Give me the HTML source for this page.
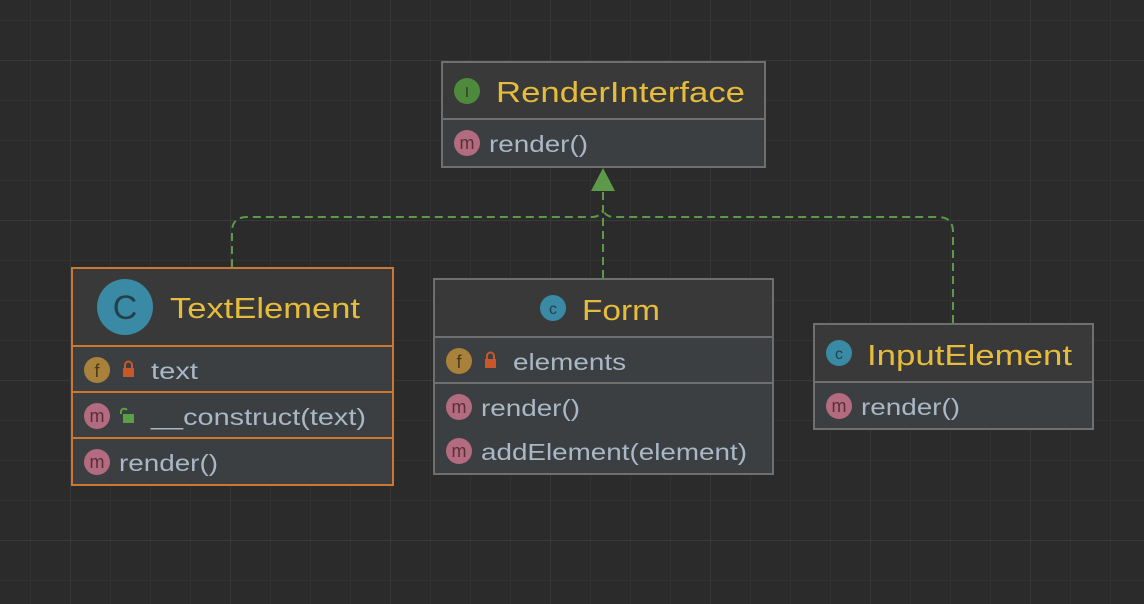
<!DOCTYPE html>
<html><head><meta charset="utf-8"><style>
html,body{margin:0;padding:0;background:#2b2b2b;width:1144px;height:604px;overflow:hidden}
svg{display:block}
.h{font-family:"Liberation Sans",sans-serif;font-size:29px;fill:#e6bc3c}
.r{font-family:"Liberation Sans",sans-serif;font-size:23px;fill:#a9b7c6}
.ic{font-family:"Liberation Sans",sans-serif;font-weight:normal;text-anchor:middle}
</style></head><body>
<svg width="1144" height="604" viewBox="0 0 1144 604" xmlns="http://www.w3.org/2000/svg">
<defs>
<pattern id="minor" width="40" height="40" patternUnits="userSpaceOnUse" x="30" y="20">
<path d="M0 0H40M0 0V40" stroke="#323232" stroke-width="2" fill="none"/>
</pattern>
<pattern id="major" width="160" height="160" patternUnits="userSpaceOnUse" x="70" y="60">
<path d="M0 0H160M0 0V160" stroke="#393939" stroke-width="2" fill="none"/>
</pattern>
</defs>
<rect width="1144" height="604" fill="#2b2b2b"/>
<rect width="1144" height="604" fill="url(#minor)"/>
<rect width="1144" height="604" fill="url(#major)"/>

<g stroke="#5c9a4a" stroke-width="2" fill="none" stroke-dasharray="8,5">
<path d="M232 267V232Q232 217 247 217H592Q600 217 603 210"/>
<path d="M953 323V232Q953 217 938 217H614Q606 217 603 210"/>
<path d="M603 278V191"/>
</g>
<polygon points="603,168 591,191 615,191" fill="#5c9a4a"/>

<rect x="442" y="62" width="323" height="105" fill="#3c3f41" stroke="#6f6f6f" stroke-width="2"/>
<rect x="443" y="63" width="321" height="56" fill="#393939"/>
<line x1="443" y1="119" x2="764" y2="119" stroke="#6f6f6f" stroke-width="2"/>
<circle cx="467" cy="91" r="13" fill="#4e8a3c"/>
<text x="467" y="97" class="ic" font-size="15" fill="#2b3a22" font-family="Liberation Serif">I</text>
<text x="496" y="102" class="h" textLength="249" lengthAdjust="spacingAndGlyphs">RenderInterface</text>
<circle cx="467" cy="143" r="13" fill="#b36b80"/>
<text x="467" y="149" class="ic" font-size="18" fill="#5a2d3a">m</text>
<text x="489" y="152" class="r" textLength="99" lengthAdjust="spacingAndGlyphs">render()</text>

<rect x="72" y="268" width="321" height="217" fill="#3c3f41" stroke="#cc7832" stroke-width="2"/>
<rect x="73" y="269" width="319" height="77" fill="#393939"/>
<line x1="73" y1="346" x2="392" y2="346" stroke="#cc7832" stroke-width="2"/>
<line x1="73" y1="392" x2="392" y2="392" stroke="#cc7832" stroke-width="2"/>
<line x1="73" y1="438" x2="392" y2="438" stroke="#cc7832" stroke-width="2"/>
<circle cx="125" cy="307" r="28" fill="#3b8aa5"/>
<text x="125" y="319" class="ic" font-size="34" fill="#24404c">C</text>
<text x="170" y="318" class="h" textLength="190" lengthAdjust="spacingAndGlyphs">TextElement</text>
<circle cx="97" cy="370" r="13" fill="#a8823a"/>
<text x="97" y="377" class="ic" font-size="18" fill="#4a381a">f</text>
<rect x="123" y="368" width="11" height="9" fill="#c8582a"/>
<path d="M125 368v-3a3.5 3.5 0 0 1 7 0v3" stroke="#c8582a" stroke-width="2" fill="none"/>
<text x="151" y="379" class="r" textLength="47" lengthAdjust="spacingAndGlyphs">text</text>
<circle cx="97" cy="416" r="13" fill="#b36b80"/>
<text x="97" y="422" class="ic" font-size="18" fill="#5a2d3a">m</text>
<rect x="123" y="414" width="11" height="9" fill="#5a9e45"/>
<path d="M121 414v-3a3.5 3.5 0 0 1 6 -1" stroke="#5a9e45" stroke-width="2" fill="none"/>
<text x="151" y="425" class="r" textLength="215" lengthAdjust="spacingAndGlyphs">__construct(text)</text>
<circle cx="97" cy="462" r="13" fill="#b36b80"/>
<text x="97" y="468" class="ic" font-size="18" fill="#5a2d3a">m</text>
<text x="119" y="471" class="r" textLength="99" lengthAdjust="spacingAndGlyphs">render()</text>

<rect x="434" y="279" width="339" height="195" fill="#3c3f41" stroke="#6f6f6f" stroke-width="2"/>
<rect x="435" y="280" width="337" height="57" fill="#393939"/>
<line x1="435" y1="337" x2="772" y2="337" stroke="#6f6f6f" stroke-width="2"/>
<line x1="435" y1="383" x2="772" y2="383" stroke="#6f6f6f" stroke-width="2"/>
<circle cx="553" cy="308" r="13" fill="#3b8aa5"/>
<text x="553" y="314" class="ic" font-size="16" fill="#24404c">c</text>
<text x="582" y="320" class="h" textLength="78" lengthAdjust="spacingAndGlyphs">Form</text>
<circle cx="459" cy="361" r="13" fill="#a8823a"/>
<text x="459" y="368" class="ic" font-size="18" fill="#4a381a">f</text>
<rect x="485" y="359" width="11" height="9" fill="#c8582a"/>
<path d="M487 359v-3a3.5 3.5 0 0 1 7 0v3" stroke="#c8582a" stroke-width="2" fill="none"/>
<text x="513" y="370" class="r" textLength="113" lengthAdjust="spacingAndGlyphs">elements</text>
<circle cx="459" cy="407" r="13" fill="#b36b80"/>
<text x="459" y="413" class="ic" font-size="18" fill="#5a2d3a">m</text>
<text x="481" y="416" class="r" textLength="99" lengthAdjust="spacingAndGlyphs">render()</text>
<circle cx="459" cy="451" r="13" fill="#b36b80"/>
<text x="459" y="457" class="ic" font-size="18" fill="#5a2d3a">m</text>
<text x="481" y="460" class="r" textLength="266" lengthAdjust="spacingAndGlyphs">addElement(element)</text>

<rect x="814" y="324" width="279" height="105" fill="#3c3f41" stroke="#6f6f6f" stroke-width="2"/>
<rect x="815" y="325" width="277" height="57" fill="#393939"/>
<line x1="815" y1="382" x2="1092" y2="382" stroke="#6f6f6f" stroke-width="2"/>
<circle cx="839" cy="353" r="13" fill="#3b8aa5"/>
<text x="839" y="359" class="ic" font-size="16" fill="#24404c">c</text>
<text x="867" y="365" class="h" textLength="205" lengthAdjust="spacingAndGlyphs">InputElement</text>
<circle cx="839" cy="406" r="13" fill="#b36b80"/>
<text x="839" y="412" class="ic" font-size="18" fill="#5a2d3a">m</text>
<text x="861" y="415" class="r" textLength="99" lengthAdjust="spacingAndGlyphs">render()</text>
</svg>
</body></html>
